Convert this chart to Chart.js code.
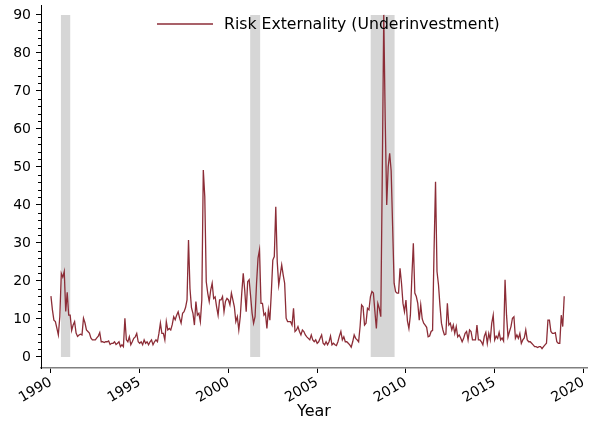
<!DOCTYPE html>
<html>
<head>
<meta charset="utf-8">
<script src="https://cdn.jsdelivr.net/npm/chart.js@4.4.1/dist/chart.umd.min.js"></script>
<style>
  html, body { margin: 0; padding: 0; background: #fff; }
</style>
</head>
<body>
<canvas id="c" width="589" height="423"></canvas>
<script>
Chart.defaults.font.family = "DejaVu Sans";
Chart.defaults.font.size = 14;
Chart.defaults.color = "#000";

// monthly values, Jan 1990 onwards
const START_YEAR = 1990;
const risk1990s = [
    16, 12.4, 9.7, 9.3, 7.6, 5.8, 10.6, 22, 21, 22.5, 12, 17,
    11, 11, 7, 8.4, 9.3, 6.3, 5.4, 5.8, 6, 5.8, 10.2, 9,
    7.1, 6.7, 6.3, 5, 4.5, 4.5, 4.5, 5, 5.5, 6.4, 4, 4,
    3.8, 4, 4, 4.2, 3.3, 3.6, 3.6, 4, 3.3, 3.6, 4, 2.7,
    3.2, 2.7, 10.2, 4.5, 4, 5.3, 3.2, 4, 4.9, 5.3, 6.2, 4,
    3.6, 4, 3.2, 4.5, 3.6, 4, 3.2, 4, 4.5, 3.2, 4, 4.5,
    4, 6.2, 8.9, 6.2, 6.2, 4.5, 9.3, 7.1, 7.5, 7.1, 8.5, 10.6,
    9.8, 11, 11.9, 10.2, 8.9, 11.5, 11.9, 13, 15, 30.8, 18, 13,
    11.5, 8.4, 14.6, 11, 11.5, 9.3, 15, 49.2, 42.2, 19.8, 16.8, 14.6,
    17.6, 19.4, 15.4, 15.8, 13.2, 11, 15, 15, 15.9, 11.9, 14.6, 15.4,
];
const risk2000s = [
    15, 13.7, 16.8, 15, 13.2, 9.3, 10.6, 7.1, 10.6, 16.8, 22, 17.6,
    11.9, 19.8, 20.3, 15.9, 11.5, 8.9, 10.6, 19.4, 26, 28.2, 14.1, 14.1,
    11, 11.5, 7.5, 12.4, 9.7, 17, 25.5, 26.4, 39.5, 25, 18.9, 21.6,
    24.2, 21.6, 19.4, 10.2, 9.3, 9.3, 9.3, 8.4, 12.8, 6.7, 7.1, 8,
    6.7, 5.8, 7.1, 6.7, 5.8, 5.3, 4.9, 4.5, 5.8, 4.5, 4, 4.5,
    3.6, 4, 4.9, 5.8, 3.6, 3.2, 4, 3.2, 4, 5.5, 3.2, 3.6,
    3.2, 3, 4, 5.5, 6.7, 4.5, 5.3, 4, 4, 3.6, 3.2, 2.6,
    4, 5.8, 4.9, 4.5, 4, 8, 13.7, 13.2, 8.4, 8.9, 12.8, 12.4,
    15.9, 17.2, 16.8, 12, 7.5, 14.1, 12.8, 10.6, 48, 90, 62, 40,
    50, 53.6, 49, 34.3, 19.4, 17.2, 16.8, 16.8, 23.3, 19.4, 14.1, 11.9,
];
const risk2010s = [
    15, 9.5, 7.5, 11, 21.1, 29.9, 16.8, 15.9, 14.1, 9.7, 13.7, 10,
    8.9, 8.4, 7.8, 5.3, 5.5, 6.7, 7, 28, 46.1, 22.5, 19, 13.5,
    8.9, 7.1, 5.8, 6, 14.1, 8.4, 8.9, 7.1, 8.4, 6.2, 8, 5.3,
    5.8, 5, 4, 4.9, 6.2, 6.7, 4.5, 7.1, 6.7, 4.5, 4.5, 4.5,
    8.4, 4.5, 4.5, 4, 3.2, 5.5, 6.5, 3.6, 6.2, 4.5, 8.9, 11,
    4.5, 5.5, 4.9, 6.5, 4.5, 5, 4.2, 20.3, 11, 5.3, 6.7, 8,
    10.2, 10.6, 4.9, 5.8, 4.9, 6.2, 3.6, 4.5, 5, 7.1, 4.5, 4,
    4, 3.6, 3.2, 2.7, 2.7, 2.5, 2.7, 2.7, 2.2, 2.7, 3.2, 3.6,
    9.7, 9.7, 6.7, 6.2, 6.2, 6.4, 4, 3.6, 3.6, 11, 8, 16,
];

const recessionStart = [1990.55, 2001.22, 2008.0];
const recessionEnd   = [1991.1, 2001.8, 2009.37];
const recessionTop   = 90;

const xTicks = [1990, 1995, 2000, 2005, 2010, 2015, 2020];
const yTicks = [0, 10, 20, 30, 40, 50, 60, 70, 80, 90];
const seriesLabel = "Risk Externality (Underinvestment)";
const LINE_COLOR = "#8c2d37";

const riskValues = [...risk1990s, ...risk2000s, ...risk2010s];
const riskPoints = riskValues.map((v, i) => ({ x: START_YEAR + i / 12, y: v }));

const recessionSets = recessionStart.map((s, k) => ({
    label: "recession",
    data: [{ x: s, y: recessionTop }, { x: recessionEnd[k], y: recessionTop }],
    fill: "origin",
    backgroundColor: "#d6d6d6",
    borderColor: "rgba(0,0,0,0)",
    borderWidth: 0,
    pointRadius: 0,
}));

// matplotlib-style minor ticks on the y axis
const minorTicks = {
    id: "minorTicks",
    afterDraw(chart) {
        const y = chart.scales.y;
        const ctx = chart.ctx;
        const left = chart.chartArea.left;
        ctx.save();
        ctx.strokeStyle = "#000";
        ctx.lineWidth = 1;
        for (let v = 2; v < 92; v += 2) {
            if (v % 10 === 0) continue;
            const py = Math.round(y.getPixelForValue(v)) + 0.5;
            ctx.beginPath();
            ctx.moveTo(left - 3, py);
            ctx.lineTo(left, py);
            ctx.stroke();
        }
        ctx.restore();
    },
};

// legend sitting inside the plot, upper centre
const innerLegend = {
    id: "innerLegend",
    afterDraw(chart) {
        const ctx = chart.ctx;
        const x0 = chart.chartArea.left + 116;
        const y0 = chart.chartArea.top + 19;
        ctx.save();
        ctx.strokeStyle = LINE_COLOR;
        ctx.lineWidth = 1.3;
        ctx.beginPath();
        ctx.moveTo(x0, y0);
        ctx.lineTo(x0 + 56, y0);
        ctx.stroke();
        ctx.fillStyle = "#000";
        ctx.font = "15.7px 'DejaVu Sans'";
        ctx.textBaseline = "middle";
        ctx.fillText(seriesLabel, x0 + 67, y0 + 1);
        ctx.restore();
    },
};

new Chart(document.getElementById("c"), {
    type: "line",
    data: {
        datasets: [{
            label: seriesLabel,
            data: riskPoints,
            borderColor: LINE_COLOR,
            backgroundColor: LINE_COLOR,
            borderWidth: 1.3,
            pointRadius: 0,
            tension: 0,
            fill: false,
        }, ...recessionSets],
    },
    options: {
        responsive: false,
        animation: false,
        layout: { padding: { top: 5, right: 2, left: 0, bottom: 0 } },
        plugins: {
            tooltip: { enabled: false },
            legend: { display: false },
        },
        scales: {
            x: {
                type: "linear",
                min: 1989.44,
                max: 2020.2,
                afterBuildTicks: s => { s.ticks = xTicks.map(v => ({ value: v })); },
                afterFit: s => { s.height = 55; s.paddingLeft = 0; s.paddingRight = 0; },
                grid: { drawOnChartArea: false, drawTicks: true, tickLength: 5, color: "#000" },
                border: { display: true, color: "#808080", width: 1.5 },
                ticks: { minRotation: 30, maxRotation: 30, padding: 1, color: "#000", autoSkip: false, callback: v => String(v) },
                title: { display: true, text: "Year", color: "#000", font: { size: 16 }, padding: { top: 0, bottom: 2 } },
            },
            y: {
                type: "linear",
                min: -2.9,
                max: 92.6,
                afterBuildTicks: s => { s.ticks = yTicks.map(v => ({ value: v })); },
                afterFit: s => { s.width = 41; s.paddingTop = 0; s.paddingBottom = 0; },
                grid: { drawOnChartArea: false, drawTicks: true, tickLength: 5, color: "#000" },
                border: { display: true, color: "#000", width: 1 },
                ticks: { padding: 5, color: "#000" },
            },
        },
    },
    plugins: [minorTicks, innerLegend],
});
</script>
</body>
</html>
